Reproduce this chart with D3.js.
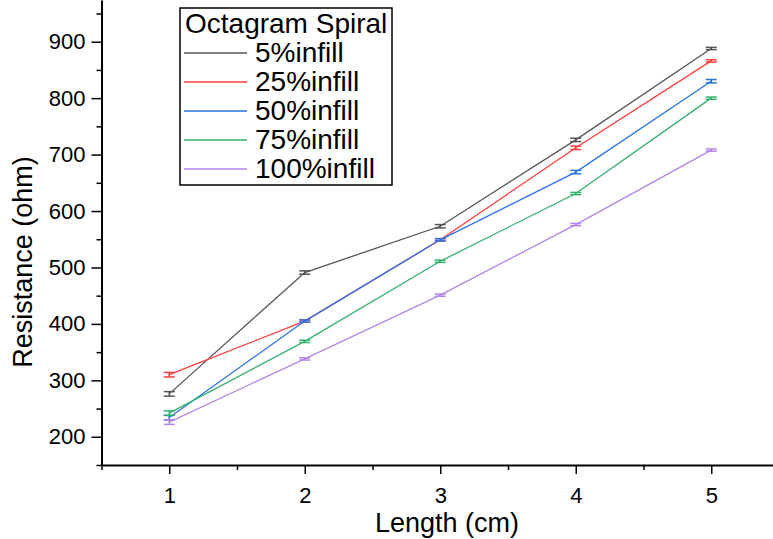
<!DOCTYPE html>
<html>
<head>
<meta charset="utf-8">
<script src="https://cdn.jsdelivr.net/npm/d3@7"></script>
<style>
  body { margin: 0; background: #fff; }
  svg { display: block; font-family: "Liberation Sans", Arial, sans-serif; }
</style>
</head>
<body>
<div id="chart"></div>
<script>
var lengths = [1, 2, 3, 4, 5];
var seriesNames = ["5%infill", "25%infill", "50%infill", "75%infill", "100%infill"];
var seriesColors = ["#555555", "#ff3d3d", "#2a74e0", "#35b06f", "#b386ea"];
var infill5 = [276, 491, 573, 726, 888];
var infill25 = [310, 405, 549, 712, 866];
var infill50 = [234, 405, 549, 669, 830];
var infill75 = [242, 369, 511, 631, 800];
var infill100 = [226, 338, 451, 576, 708];
var err5 = [4, 3, 3, 3, 2];
var err25 = [4, 2, 2, 3, 2];
var err50 = [4, 2, 2, 3, 3];
var err75 = [4, 2, 2, 2, 2];
var err100 = [4, 2, 2, 2, 2];
var yTicks = [200, 300, 400, 500, 600, 700, 800, 900];

var allValues = [infill5, infill25, infill50, infill75, infill100];
var allErrors = [err5, err25, err50, err75, err100];

var width = 773, height = 539;
var svg = d3.select("#chart").append("svg")
    .attr("width", width)
    .attr("height", height);

var x = d3.scaleLinear().domain([0.5, 5.5]).range([101.5, 779]);
var y = d3.scaleLinear().domain([150, 973.9]).range([465, 0]);

// minor ticks
svg.append("g")
    .attr("transform", "translate(0,465)")
    .call(d3.axisBottom(x).tickValues([0.5, 1.5, 2.5, 3.5, 4.5, 5.5]).tickSize(5).tickFormat(""))
    .call(function(g){ g.select(".domain").remove(); g.selectAll("line").attr("stroke-width", 1.5); });
svg.append("g")
    .attr("transform", "translate(101.5,0)")
    .call(d3.axisLeft(y).tickValues([150, 250, 350, 450, 550, 650, 750, 850, 950]).tickSize(5).tickFormat(""))
    .call(function(g){ g.select(".domain").remove(); g.selectAll("line").attr("stroke-width", 1.5); });

// major axes
var xAxis = svg.append("g")
    .attr("transform", "translate(0,465)")
    .call(d3.axisBottom(x).tickValues(lengths).tickSize(9).tickSizeOuter(0).tickPadding(13).tickFormat(d3.format("d")));
var yAxis = svg.append("g")
    .attr("transform", "translate(101.5,0)")
    .call(d3.axisLeft(y).tickValues(yTicks).tickSize(10).tickSizeOuter(0).tickPadding(6));

[xAxis, yAxis].forEach(function(g){
  g.select(".domain").attr("stroke-width", 2);
  g.selectAll("line").attr("stroke-width", 1.5);
  g.selectAll("text").attr("font-size", 22).attr("font-family", "Liberation Sans, Arial, sans-serif").attr("fill", "#000");
});

// series lines
var line = d3.line()
    .x(function(d){ return x(d[0]); })
    .y(function(d){ return y(d[1]); });

allValues.forEach(function(vals, s){
  var pts = lengths.map(function(l, i){ return [l, vals[i], allErrors[s][i]]; });
  svg.append("path")
      .datum(pts)
      .attr("fill", "none")
      .attr("stroke", seriesColors[s])
      .attr("stroke-width", 1.3)
      .attr("d", line);

  var eb = svg.append("g").attr("stroke", seriesColors[s]).attr("stroke-width", 1.5);
  pts.forEach(function(p){
    var cx = x(p[0]);
    eb.append("line").attr("x1", cx).attr("x2", cx).attr("y1", y(p[1] - p[2])).attr("y2", y(p[1] + p[2]));
    eb.append("line").attr("x1", cx - 5.5).attr("x2", cx + 5.5).attr("y1", y(p[1] + p[2])).attr("y2", y(p[1] + p[2]));
    eb.append("line").attr("x1", cx - 5.5).attr("x2", cx + 5.5).attr("y1", y(p[1] - p[2])).attr("y2", y(p[1] - p[2]));
  });
});

// axis titles
svg.append("text")
    .attr("x", x(3.05))
    .attr("y", 532)
    .attr("text-anchor", "middle")
    .attr("font-size", 27)
    .text("Length (cm)");
svg.append("text")
    .attr("transform", "translate(32,262) rotate(-90)")
    .attr("text-anchor", "middle")
    .attr("font-size", 27)
    .text("Resistance (ohm)");

// legend
var legend = svg.append("g");
legend.append("rect")
    .attr("x", 180).attr("y", 8)
    .attr("width", 212).attr("height", 177)
    .attr("fill", "#fff")
    .attr("stroke", "#000")
    .attr("stroke-width", 1.5);
legend.append("text")
    .attr("x", 185).attr("y", 33)
    .attr("font-size", 28)
    .text("Octagram Spiral");
seriesNames.forEach(function(name, i){
  var ly = 53 + i * 29;
  legend.append("line")
      .attr("x1", 184).attr("x2", 247)
      .attr("y1", ly).attr("y2", ly)
      .attr("stroke", seriesColors[i])
      .attr("stroke-width", 1.3);
  legend.append("text")
      .attr("x", 255).attr("y", ly + 9)
      .attr("font-size", 28)
      .text(name);
});
</script>
</body>
</html>
